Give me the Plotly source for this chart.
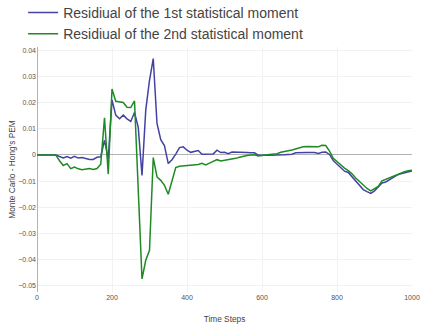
import plotly.graph_objects as go

# Time axis (sampled every 10 steps)
time_steps = list(range(0, 1001, 10))

# Residual of the first statistical moment (Monte Carlo - Hong's PEM)
residual_m1 = [
    0, 0, 0, 0, 0, 0, -0.0006, -0.0011, -0.0006, -0.0012,
    -0.0005, -0.0012, -0.0010, -0.0013, -0.0017, -0.0017, -0.0009, -0.0007, 0.0056, -0.0015,
    0.0210, 0.0152, 0.0138, 0.0152, 0.0138, 0.0128, 0.0162, 0.0105, -0.0078, 0.0171,
    0.0285, 0.0368, 0.0120, 0.0058, 0.0035, -0.0033, -0.0018, 0.0003, 0.0028, 0.0031,
    0.0018, 0.0010, 0.0014, 0.0017, 0.0003, 0.0004, 0.0004, 0.0004, 0.0018, 0.0009,
    0.0010, 0.0005, 0.0011, 0.0011, 0.0010, 0.0009, 0.0009, 0.0008, 0.0008, -0.0001,
    -0.0002, -0.0001, -0.0001, -0.0001, 0.0000, 0.0000, 0.0001, 0.0002, 0.0003, 0.0008,
    0.0009, 0.0009, 0.0009, 0.0009, 0.0009, 0.0006, 0.0010, 0.0011, 0.0002, -0.0021,
    -0.0035, -0.0050, -0.0062, -0.0067, -0.0083, -0.0098, -0.0118, -0.0132, -0.0140, -0.0147,
    -0.0137, -0.0123, -0.0107, -0.0103, -0.0094, -0.0084, -0.0077, -0.0072, -0.0068, -0.0064,
    -0.0061,
]

# Residual of the second statistical moment
residual_m2 = [
    0, 0, 0, 0, 0, 0, -0.0022, -0.0040, -0.0033, -0.0052,
    -0.0046, -0.0053, -0.0056, -0.0054, -0.0052, -0.0055, -0.0052, -0.0035, 0.0142, -0.0073,
    0.0252, 0.0205, 0.0202, 0.0200, 0.0182, 0.0181, 0.0206, -0.0130, -0.0473, -0.0402,
    -0.0364, -0.0010, -0.0084, -0.0097, -0.0116, -0.0150, -0.0097, -0.0048, -0.0043, -0.0042,
    -0.0041, -0.0040, -0.0039, -0.0036, -0.0032, -0.0038, -0.0031, -0.0026, -0.0018, -0.0023,
    -0.0021, -0.0017, -0.0015, -0.0013, -0.0009, -0.0005, -0.0002, 0.0000, 0.0001, -0.0004,
    -0.0003, 0.0000, 0.0002, 0.0004, 0.0005, 0.0010, 0.0012, 0.0016, 0.0019, 0.0024,
    0.0029, 0.0031, 0.0032, 0.0032, 0.0033, 0.0031, 0.0037, 0.0036, 0.0015, -0.0013,
    -0.0025, -0.0038, -0.0050, -0.0060, -0.0072, -0.0088, -0.0102, -0.0118, -0.0128, -0.0137,
    -0.0130, -0.0120, -0.0099, -0.0093, -0.0085, -0.0079, -0.0073, -0.0069, -0.0064, -0.0060,
    -0.0058,
]

series_names = [
    "Residiual of the 1st statistical moment",
    "Residiual of the 2nd statistical moment",
]
series_colors = ["#4343a3", "#1f8a24"]

x_tick_values = [0, 200, 400, 600, 800, 1000]
y_tick_values = [0.04, 0.03, 0.02, 0.01, 0, -0.01, -0.02, -0.03, -0.04, -0.05]

font_family = "Liberation Sans, Arial, sans-serif"

fig = go.Figure()
for name, ys, color in zip(series_names, [residual_m1, residual_m2], series_colors):
    fig.add_trace(go.Scatter(
        x=time_steps, y=ys, mode="lines", name=name,
        line=dict(color=color, width=1.5),
    ))

fig.update_layout(
    width=421, height=331,
    margin=dict(l=37, r=9, t=47, b=39, autoexpand=False),
    paper_bgcolor="white", plot_bgcolor="white",
    font=dict(family=font_family, color="#444"),
    showlegend=True,
    legend=dict(
        x=-0.037, xanchor="left",
        y=1.204, yanchor="top",
        font=dict(size=14, color="#444"),
        bgcolor="rgba(0,0,0,0)", tracegroupgap=0,
    ),
    xaxis=dict(
        range=[0, 1000], tickvals=x_tick_values,
        tickfont=dict(size=7, color="#555"),
        title=dict(text="Time Steps", font=dict(size=8.3, color="#444"), standoff=16),
        showgrid=True, gridcolor="#f2f2f2", gridwidth=1,
        zeroline=True, zerolinecolor="#b3b3b3", zerolinewidth=1.3,
        showline=False, ticks="", automargin=False,
    ),
    yaxis=dict(
        range=[-0.0523, 0.0412], tickvals=y_tick_values,
        tickfont=dict(size=7, color="#555"),
        title=dict(text="Monte Carlo - Hong's PEM", font=dict(size=8.3, color="#444"), standoff=1),
        showgrid=True, gridcolor="#f2f2f2", gridwidth=1,
        zeroline=True, zerolinecolor="#b3b3b3", zerolinewidth=1.3,
        showline=False, ticks="", automargin=False,
    ),
)

fig.write_html("out.html")
